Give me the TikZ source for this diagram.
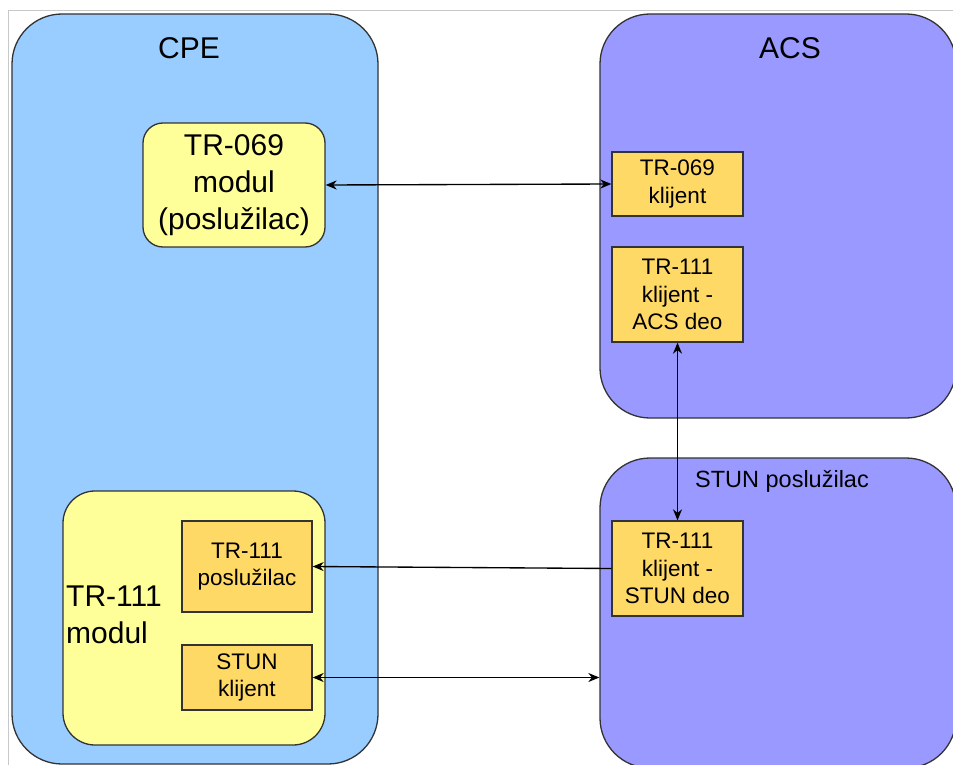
\documentclass[tikz,border=0pt]{standalone}
\usepackage{fontspec}
\setmainfont{Liberation Sans}
\usetikzlibrary{arrows.meta}
\definecolor{cpeblue}{HTML}{99CCFF}
\definecolor{acsviolet}{HTML}{9999FF}
\definecolor{modyellow}{HTML}{FFFF99}
\definecolor{partorange}{HTML}{FFD966}
\definecolor{edgegray}{HTML}{333333}
\definecolor{framegray}{HTML}{C8C8C8}
\newcommand{\bigfont}{\fontsize{30}{37}\selectfont}
\newcommand{\smallfont}{\fontsize{22.5}{27.5}\selectfont}
\newcommand{\labelfont}{\fontsize{23.5}{28}\selectfont}
\begin{document}
\begin{tikzpicture}[x=1pt,y=-1pt,
  bigbox/.style={draw=edgegray, line width=1.3pt, rounded corners=50pt, inner sep=0pt},
  modbox/.style={draw=edgegray, line width=1.3pt, fill=modyellow, inner sep=0pt},
  partbox/.style={draw=edgegray, line width=1.3pt, fill=partorange, align=center, font=\smallfont, inner sep=0pt},
  conn/.style={line width=1.35pt, draw=black},
  endtip/.style={-{Stealth[length=11pt,width=9pt,inset=3.5pt]}},
  bothtips/.style={{Stealth[length=11pt,width=9pt,inset=3.5pt]}-{Stealth[length=11pt,width=9pt,inset=3.5pt]}},
  titletext/.style={font=\bigfont, inner sep=0pt}
]
\useasboundingbox (0,0) rectangle (953,765);
\clip (0,0) rectangle (953,765);
\fill[white] (0,0) rectangle (953,765);
% frame
\draw[framegray, line width=1pt] (8,770) -- (8,11) -- (960,11);

% big containers
\node[bigbox, fill=cpeblue, minimum width=366pt, minimum height=750pt] (cpe) at (195,389) {};
\node[bigbox, fill=acsviolet, minimum width=356pt, minimum height=404pt] (acs) at (778,216) {};
\node[bigbox, fill=acsviolet, minimum width=356pt, minimum height=310pt] (stunbox) at (778,613) {};

\node[titletext, anchor=base] (cpelabel) at (189,59) {CPE};
\node[titletext, anchor=base] (acslabel) at (790,59) {ACS};
\node[font=\labelfont, inner sep=0pt, anchor=base] (stunlabel) at (782,487) {STUN poslužilac};

% CPE content
\node[modbox, rounded corners=20pt, minimum width=182pt, minimum height=124pt, align=center, font=\bigfont] (tr069mod) at (234,185) {TR-069\\modul\\(poslužilac)};
\node[modbox, rounded corners=32pt, minimum width=262pt, minimum height=254pt] (tr111mod) at (194,618) {};
\node[font=\bigfont, align=left, inner sep=0pt, anchor=west] (tr111modlabel) at (66,615) {TR-111\\modul};
\node[partbox, minimum width=130pt, minimum height=91pt] (tr111srv) at (247,566.5) {TR-111\\poslužilac};
\node[partbox, minimum width=130pt, minimum height=65pt] (stunkl) at (247,677.5) {STUN\\klijent};

% ACS content
\node[partbox, minimum width=131pt, minimum height=64pt] (tr069kl) at (677.5,184) {TR-069\\klijent};
\node[partbox, minimum width=131pt, minimum height=95pt] (acsdeo) at (677.5,294.5) {TR-111\\klijent -\\ACS deo};

% STUN content
\node[partbox, minimum width=131pt, minimum height=95pt] (stundeo) at (677.5,568.5) {TR-111\\klijent -\\STUN deo};

% connectors
\draw[conn, bothtips] (tr069mod.east) -- (tr069kl.west);
\draw[conn, bothtips] (acsdeo.south) -- (stundeo.north);
\draw[conn, endtip] (stundeo.west) -- (tr111srv.east);
\draw[conn, bothtips] (stunkl.east) -- (stunkl.east -| stunbox.west);
\end{tikzpicture}
\end{document}
